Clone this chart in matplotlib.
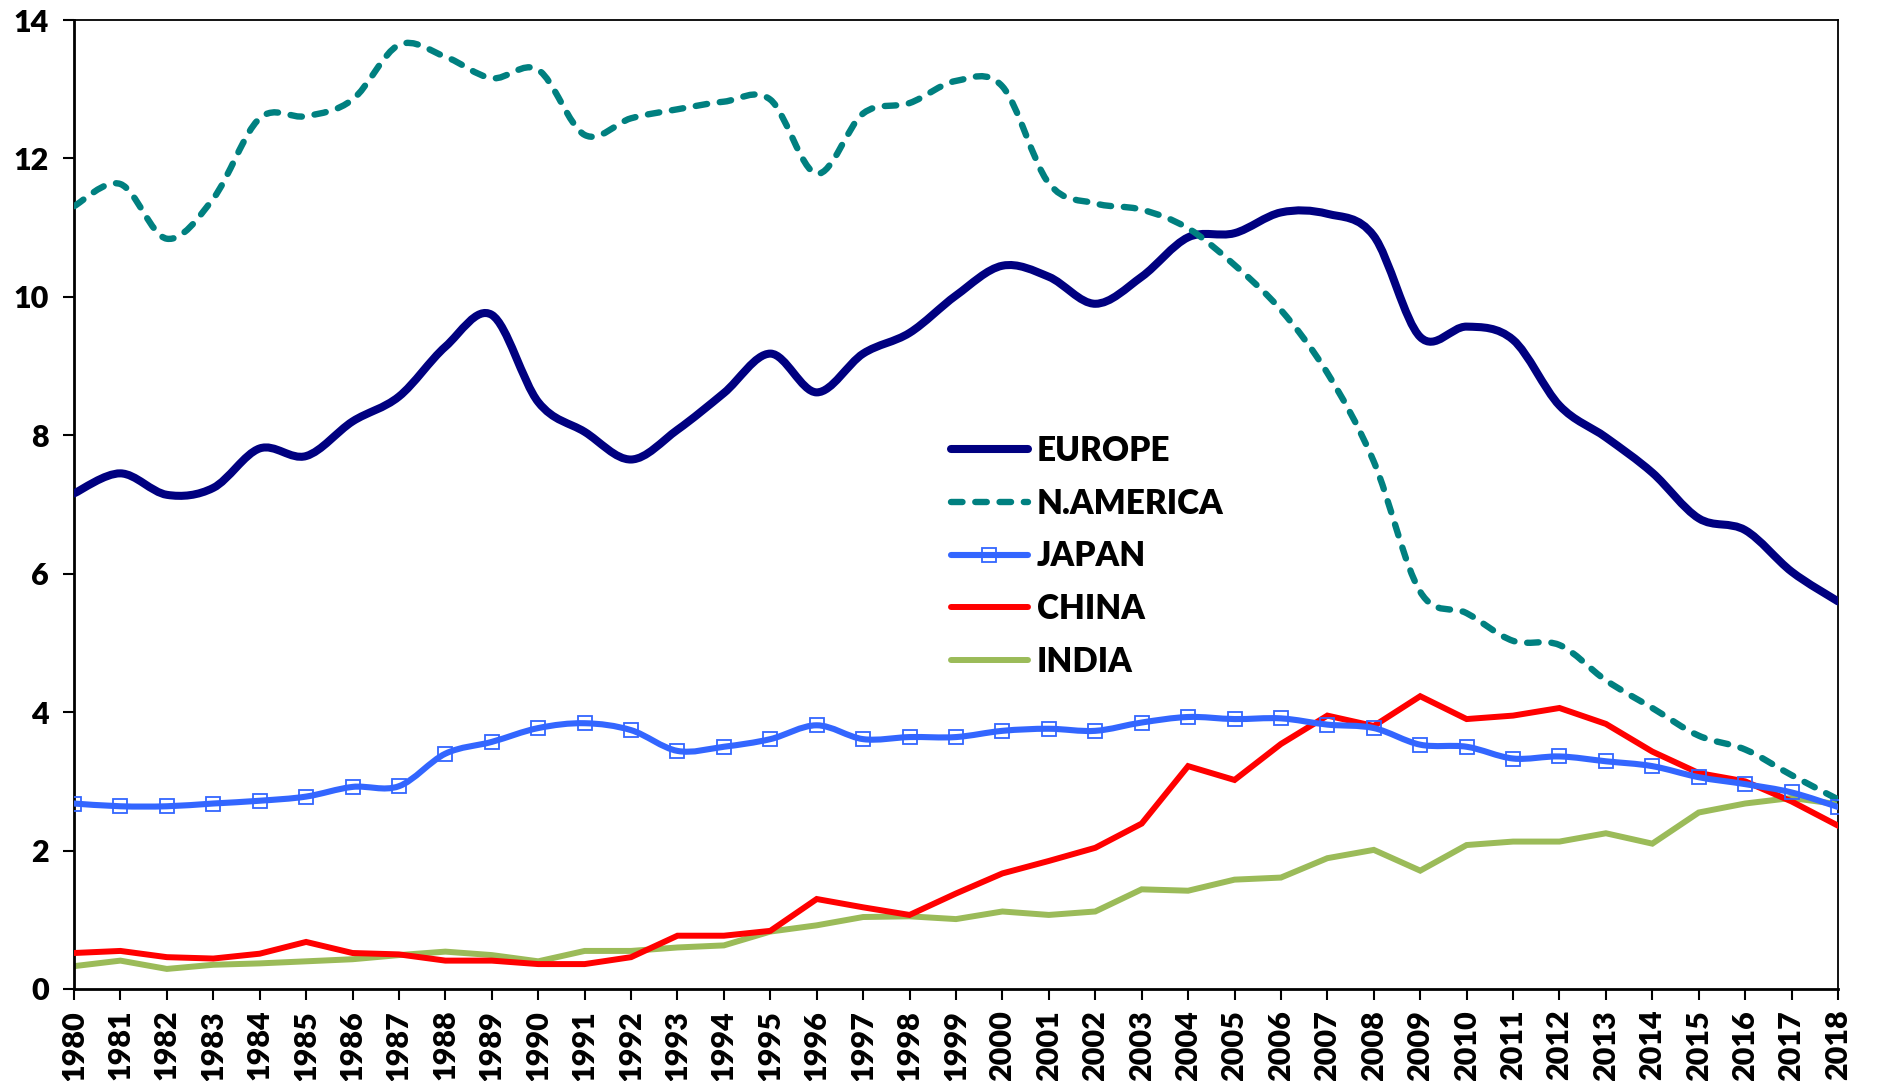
import numpy as np
import matplotlib
matplotlib.use('Agg')
import matplotlib.pyplot as plt
from matplotlib.path import Path
from matplotlib.patches import PathPatch
from matplotlib.lines import Line2D

# ── Data ───────────────────────────────────────────────
years = list(range(1980, 2019))

europe = [7.16, 7.45, 7.14, 7.24, 7.81, 7.70, 8.20, 8.56, 9.28, 9.74,
          8.48, 8.05, 7.65, 8.08, 8.61, 9.18, 8.62, 9.18, 9.48, 10.02,
          10.45, 10.29, 9.90, 10.29, 10.86, 10.92, 11.22, 11.20, 10.88, 9.42,
          9.57, 9.38, 8.43, 7.97, 7.46, 6.80, 6.63, 6.03, 5.60]

n_america = [11.31, 11.63, 10.84, 11.42, 12.58, 12.61, 12.85, 13.64, 13.47, 13.16,
             13.28, 12.34, 12.58, 12.71, 12.82, 12.85, 11.78, 12.65, 12.80, 13.12,
             13.04, 11.64, 11.35, 11.26, 10.99, 10.46, 9.81, 8.90, 7.62, 5.74,
             5.43, 5.03, 4.97, 4.46, 4.06, 3.66, 3.46, 3.09, 2.74]

japan = [2.68, 2.64, 2.64, 2.68, 2.72, 2.78, 2.92, 2.93, 3.40, 3.57,
         3.77, 3.84, 3.74, 3.44, 3.50, 3.61, 3.81, 3.61, 3.64, 3.64,
         3.73, 3.76, 3.73, 3.85, 3.93, 3.90, 3.91, 3.82, 3.77, 3.53,
         3.50, 3.33, 3.36, 3.29, 3.22, 3.06, 2.96, 2.84, 2.63]

china = [0.52, 0.55, 0.46, 0.44, 0.51, 0.68, 0.52, 0.50, 0.41, 0.41,
         0.36, 0.36, 0.46, 0.77, 0.77, 0.84, 1.30, 1.18, 1.07, 1.38,
         1.67, 1.85, 2.04, 2.39, 3.22, 3.02, 3.54, 3.95, 3.80, 4.23,
         3.90, 3.95, 4.06, 3.83, 3.43, 3.12, 3.00, 2.71, 2.36]

india = [0.33, 0.41, 0.29, 0.35, 0.37, 0.40, 0.43, 0.49, 0.54, 0.49,
         0.40, 0.55, 0.55, 0.60, 0.63, 0.83, 0.92, 1.04, 1.05, 1.01,
         1.12, 1.07, 1.12, 1.44, 1.42, 1.58, 1.61, 1.89, 2.01, 1.71,
         2.08, 2.13, 2.13, 2.25, 2.10, 2.55, 2.68, 2.76, 2.67]

labels = ['EUROPE', 'N.AMERICA', 'JAPAN', 'CHINA', 'INDIA']

# ── Palette ────────────────────────────────────────────
NAVY = "#000080"; TEAL = "#008080"; BLUE = "#3366FF"
RED = "#FF0000"; OLIVE = "#9BBB59"
DASH = (0, (1.8, 2.0))

plt.rcParams.update({
    'font.family': ['Lato', 'DejaVu Sans'],
    'font.weight': 'heavy',
    'font.size': 22,
})


def smooth_path(xs, ys):
    """Excel-style smoothed line: Catmull-Rom segments as cubic Beziers."""
    pts = np.column_stack([xs, ys]).astype(float)
    ext = np.vstack([pts[0], pts, pts[-1]])
    verts = [pts[0]]
    codes = [Path.MOVETO]
    for i in range(1, len(ext) - 2):
        p0, p1, p2, p3 = ext[i - 1], ext[i], ext[i + 1], ext[i + 2]
        verts += [p1 + (p2 - p0) / 6, p2 - (p3 - p1) / 6, p2]
        codes += [Path.CURVE4] * 3
    return Path(verts, codes)


fig = plt.figure(figsize=(18.78, 10.81), dpi=100)
ax = fig.add_axes([74 / 1878, 1 - 989 / 1081, (1838 - 74) / 1878, (989 - 20) / 1081])

# smoothed series
ax.add_patch(PathPatch(smooth_path(years, europe), fill=False, edgecolor=NAVY,
                       linewidth=5.8, capstyle='round', joinstyle='round', zorder=3))
ax.add_patch(PathPatch(smooth_path(years, n_america), fill=False, edgecolor=TEAL,
                       linewidth=4.6, linestyle=DASH, capstyle='round',
                       joinstyle='round', zorder=3))
ax.add_patch(PathPatch(smooth_path(years, japan), fill=False, edgecolor=BLUE,
                       linewidth=4.4, capstyle='round', joinstyle='round', zorder=4))
ax.plot(years, japan, linestyle='none', marker='s', markersize=10,
        markerfacecolor='none', markeredgecolor=BLUE, markeredgewidth=1.3, zorder=5)

# straight series
ax.plot(years, china, color=RED, linewidth=4.3, solid_joinstyle='miter', zorder=3)
ax.plot(years, india, color=OLIVE, linewidth=4.3, solid_joinstyle='miter', zorder=2)

ax.set_xlim(1980, 2018)
ax.set_ylim(0, 14)
ax.set_xticks(years)
ax.set_xticklabels([str(y) for y in years], rotation=90, fontsize=22, fontweight='heavy')
ax.set_yticks(range(0, 15, 2))
ax.set_yticklabels([str(v) for v in range(0, 15, 2)], fontsize=22, fontweight='heavy')
ax.tick_params(axis='both', direction='out', length=8, width=1.5, colors='black')
ax.tick_params(axis='x', pad=7)
ax.tick_params(axis='y', pad=10)
for side in ['left', 'bottom']:
    ax.spines[side].set_linewidth(2)
for side in ['top', 'right']:
    ax.spines[side].set_linewidth(1.3)

handles = [
    Line2D([], [], color=NAVY, linewidth=5.8, solid_capstyle='round'),
    Line2D([], [], color=TEAL, linewidth=4.6, linestyle=DASH, dash_capstyle='round'),
    Line2D([], [], color=BLUE, linewidth=4.4, solid_capstyle='round', marker='s', markersize=10,
           markerfacecolor='none', markeredgecolor=BLUE, markeredgewidth=1.3),
    Line2D([], [], color=RED, linewidth=4.3, solid_capstyle='round'),
    Line2D([], [], color=OLIVE, linewidth=4.3, solid_capstyle='round'),
]
ax.legend(handles, labels, loc='upper left', bbox_to_anchor=(951 / 1878, 1 - 435 / 1081),
          bbox_transform=fig.transFigure, frameon=False, borderpad=0, borderaxespad=0,
          handlelength=2.3, handletextpad=0.28, labelspacing=0.62,
          prop={'size': 24, 'weight': 'heavy'})

fig.savefig('out.png', dpi=100)
